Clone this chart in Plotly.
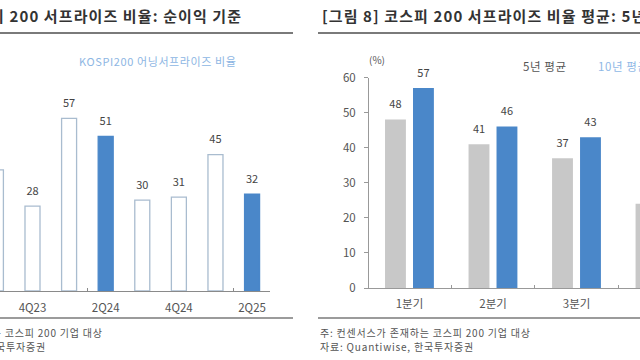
import plotly.graph_objects as go

# ---------------- data ----------------
left_quarters = ["3Q23", "4Q23", "1Q24", "2Q24", "3Q24", "4Q24", "1Q25", "2Q25"]
left_values = [40, 28, 57, 51, 30, 31, 45, 32]
left_tick_labels = ["4Q23", "2Q24", "4Q24", "2Q25"]
left_legend = "KOSPI200 어닝서프라이즈 비율"

right_categories = ["1분기", "2분기", "3분기", "4분기"]
avg_5y = [48, 41, 37, 24]
avg_10y = [57, 46, 43, 30]
right_names = ["5년 평균", "10년 평균"]

left_title = "[그림 7] 코스피 200 서프라이즈 비율: 순이익 기준"
right_title = "[그림 8] 코스피 200 서프라이즈 비율 평균: 5년, 10년"
note_line = "주: 컨센서스가 존재하는 코스피 200 기업 대상"
src_line = "자료: Quantiwise, 한국투자증권"

# ---------------- style ----------------
FONT = "Noto Sans CJK KR"
BLUE = "#4a87c9"
GREY = "#c8c8c8"
OUTLINE = "#a9bccf"
LABEL = "#444444"
W, H = 640, 360


def spaced(txt, ls):
    return f"<span style='letter-spacing:{ls}px'>{txt}</span>"


fig = go.Figure()

# ---- left chart ----
lx = list(range(len(left_quarters)))
fill = [BLUE if q.startswith("2Q") else "white" for q in left_quarters]
line_col = [BLUE if q.startswith("2Q") else OUTLINE for q in left_quarters]
fig.add_trace(go.Bar(
    x=lx, y=left_values, width=0.41,
    marker=dict(color=fill, line=dict(color=line_col, width=1.3)),
    xaxis="x", yaxis="y", showlegend=False, hoverinfo="skip"))
fig.add_trace(go.Scatter(
    x=lx, y=left_values, mode="markers+text", text=[str(v) for v in left_values],
    textposition="top center", cliponaxis=False,
    textfont=dict(family=FONT, size=11, color=LABEL),
    marker=dict(size=12, color="rgba(0,0,0,0)"),
    xaxis="x", yaxis="y", showlegend=False, hoverinfo="skip"))

# ---- right chart ----
rx = list(range(len(right_categories)))
bw = 0.25
offs = [-0.293, 0.042]
for vals, col, off, nm in zip([avg_5y, avg_10y], [GREY, BLUE], offs, right_names):
    fig.add_trace(go.Bar(
        x=rx, y=vals, width=bw, offset=off, name=nm,
        marker=dict(color=col, line=dict(width=0)),
        xaxis="x2", yaxis="y2", showlegend=False, hoverinfo="skip"))
    fig.add_trace(go.Scatter(
        x=[i + off + bw / 2 for i in rx], y=vals, mode="markers+text",
        text=[str(v) for v in vals], textposition="top center", cliponaxis=False,
        textfont=dict(family=FONT, size=11, color=LABEL),
        marker=dict(size=12, color="rgba(0,0,0,0)"),
        xaxis="x2", yaxis="y2", showlegend=False, hoverinfo="skip"))

tickfont = dict(family=FONT, size=11.5, color="#555555")

fig.update_layout(
    template="none",
    width=W, height=H, autosize=False,
    margin=dict(l=0, r=0, t=0, b=0, pad=0, autoexpand=False),
    paper_bgcolor="white", plot_bgcolor="white",
    barmode="overlay",
    font=dict(family=FONT, color="#444444"),
    xaxis=dict(domain=[0, 270 / W], range=[0.112, 7.49], automargin=False,
               tickmode="array",
               tickvals=[left_quarters.index(t) for t in left_tick_labels],
               ticktext=left_tick_labels, ticks="", ticklabelstandoff=6,
               showline=True, linecolor="#8a8a8a", linewidth=1,
               showgrid=False, zeroline=False, tickfont=tickfont,
               minor=dict(ticks="inside", ticklen=3, tick0=2.5, dtick=4,
                          tickcolor="#8a8a8a", showgrid=False)),
    yaxis=dict(domain=[1 - 291 / H, 1 - 109.2 / H], range=[0, 60],
               automargin=False, visible=False, showgrid=False),
    xaxis2=dict(domain=[369 / W, 1], range=[-0.485, 2.76], automargin=False,
                tickmode="array", tickvals=rx, ticktext=right_categories,
                ticks="", ticklabelstandoff=5,
                showline=True, linecolor="#999999", linewidth=1,
                showgrid=False, zeroline=False, tickfont=tickfont, anchor="y2",
                minor=dict(ticks="inside", ticklen=3, tick0=0.5, dtick=1,
                           tickcolor="#999999", showgrid=False)),
    yaxis2=dict(domain=[0.2, 1 - 77.5 / H], range=[0, 60], dtick=10,
                automargin=False, ticklabelstandoff=6,
                anchor="x2", showline=True, linecolor="#999999", linewidth=1,
                ticks="outside", ticklen=4, tickcolor="#999999",
                showgrid=False, zeroline=False, tickfont=tickfont),
)


def px(x):
    return x / W


def py(y):
    return 1 - y / H


shapes = []
for x0, x1 in [(-200, 293), (318, 700)]:
    shapes.append(dict(type="line", xref="paper", yref="paper",
                       x0=px(x0), x1=px(x1), y0=py(33), y1=py(33),
                       line=dict(color="#7a7a7a", width=2)))
    shapes.append(dict(type="line", xref="paper", yref="paper",
                       x0=px(x0), x1=px(x1), y0=py(318), y1=py(318),
                       line=dict(color="#7a7a7a", width=1.5)))
fig.update_layout(shapes=shapes)

ann = []
title_font = dict(family=FONT, size=15, color="#333333", weight="bold")
ann.append(dict(text=spaced(left_title, 1.1), x=px(244), y=py(16), xref="paper", yref="paper",
                xanchor="right", yanchor="middle", showarrow=False, font=title_font))
ann.append(dict(text=spaced(right_title, 1.1), x=px(320), y=py(16), xref="paper", yref="paper",
                xanchor="left", yanchor="middle", showarrow=False, font=title_font))
foot_font = dict(family=FONT, size=10, color="#555555")
for x0 in (-110, 318):
    ann.append(dict(text=spaced(note_line, 0.8), x=px(x0), y=py(332), xref="paper", yref="paper",
                    xanchor="left", yanchor="middle", showarrow=False, font=foot_font))
    ann.append(dict(text=spaced(src_line, 0.8), x=px(x0), y=py(346.5), xref="paper", yref="paper",
                    xanchor="left", yanchor="middle", showarrow=False, font=foot_font))
ann.append(dict(text=spaced(left_legend, 0.6), x=px(158), y=py(61), xref="paper", yref="paper",
                xanchor="center", yanchor="middle", showarrow=False,
                font=dict(family=FONT, size=11, color="#8db6e3")))
ann.append(dict(text=spaced(right_names[0], 0.6), x=px(545), y=py(66), xref="paper", yref="paper",
                xanchor="center", yanchor="middle", showarrow=False,
                font=dict(family=FONT, size=11.5, color="#555555")))
ann.append(dict(text=spaced(right_names[1], 0.6), x=px(596), y=py(66), xref="paper", yref="paper",
                xanchor="left", yanchor="middle", showarrow=False,
                font=dict(family=FONT, size=11.5, color="#8fb8e6")))
ann.append(dict(text="(%)", x=px(377), y=py(60), xref="paper", yref="paper",
                xanchor="center", yanchor="middle", showarrow=False,
                font=dict(family=FONT, size=10, color="#555555")))
fig.update_layout(annotations=ann)

fig.write_html("out.html", config={"displayModeBar": False},
               post_script="document.body.style.margin='0';")
